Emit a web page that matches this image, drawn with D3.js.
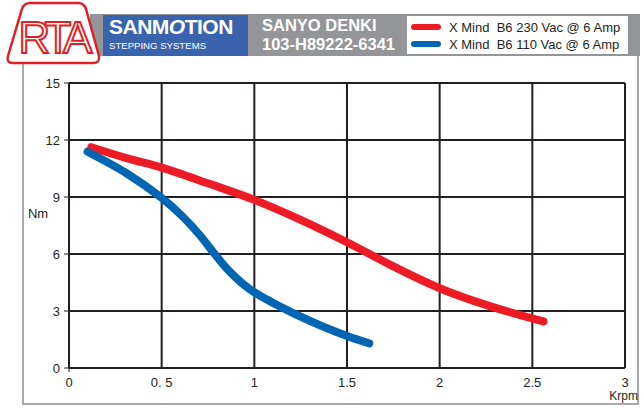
<!DOCTYPE html>
<html><head><meta charset="utf-8">
<script src="https://cdn.jsdelivr.net/npm/d3@7"></script>
<style>body{margin:0;background:#fff}svg{display:block}</style>
</head><body>
<svg id="c" width="644" height="408"></svg>
<script>
const xTicks = [0, 0.5, 1, 1.5, 2, 2.5, 3];
const xTickLabels = ["0", "0. 5", "1", "1.5", "2", "2.5", "3"];
const yTicks = [0, 3, 6, 9, 12, 15];
const seriesNames = ["X Mind  B6 230 Vac @ 6 Amp", "X Mind  B6 110 Vac @ 6 Amp"];
const seriesColors = ["#ed1c24", "#0066b3"];
const red230 = [[0.12,11.62],[0.31,11.05],[0.5,10.55],[0.75,9.72],[1.0,8.85],[1.25,7.8],[1.5,6.62],[1.75,5.35],[2.0,4.2],[2.25,3.32],[2.56,2.45]];
const blue110 = [[0.1,11.38],[0.31,10.25],[0.5,8.95],[0.614,7.96],[0.705,7.0],[0.786,6.0],[0.867,5.07],[0.975,4.15],[1.25,2.7],[1.5,1.68],[1.62,1.3]];

const svg = d3.select("#c");
const x = d3.scaleLinear().domain([0,3]).range([69,625]);
const y = d3.scaleLinear().domain([0,15]).range([368,83]);
const FONT = "Liberation Sans, Arial, sans-serif";

// frame
svg.append("path").attr("d","M23,62 V404 H638 V55").attr("fill","none").attr("stroke","#a7a9ac").attr("stroke-width",2);

// header band
svg.append("rect").attr("x",90).attr("y",14).attr("width",550).attr("height",42).attr("fill","#939598");
svg.append("rect").attr("x",103).attr("y",15).attr("width",145).attr("height",41).attr("fill","#3a63ad");
const t1 = svg.append("text").attr("x",109).attr("y",34).attr("fill","#fff").attr("font-family",FONT).attr("font-weight","bold").attr("font-size",21).attr("letter-spacing",-0.5);
t1.append("tspan").text("SANM");
t1.append("tspan").attr("font-style","italic").text("O");
t1.append("tspan").text("TION");
svg.append("text").attr("x",109).attr("y",49).attr("fill","#fff").attr("font-family",FONT).attr("font-size",9.6).text("STEPPING SYSTEMS");
svg.append("text").attr("x",262).attr("y",31).attr("fill","#fff").attr("font-family",FONT).attr("font-weight","bold").attr("font-size",16.5).text("SANYO DENKI");
svg.append("text").attr("x",262).attr("y",50).attr("fill","#fff").attr("font-family",FONT).attr("font-weight","bold").attr("font-size",16.5).text("103-H89222-6341");

// legend
svg.append("rect").attr("x",407).attr("y",16).attr("width",221).attr("height",38).attr("fill","#fff");
seriesNames.forEach((n,i)=>{
  const yy = 27 + i*17;
  svg.append("line").attr("x1",414).attr("x2",438).attr("y1",yy).attr("y2",yy).attr("stroke",seriesColors[i]).attr("stroke-width",6).attr("stroke-linecap","round");
  svg.append("text").attr("x",449).attr("y",yy+5).attr("fill","#231f20").attr("font-family",FONT).attr("font-size",13).attr("xml:space","preserve").style("white-space","pre").text(n);
});

// logo
const logo = svg.append("g");
logo.append("path").attr("d","M30,3 H78 Q84,3 86,9 L99,56 Q100,63 93,63 H13 Q6,63 8,56 L22,9 Q24,3 30,3 Z").attr("fill","#fff").attr("stroke","#e31e24").attr("stroke-width",2.5);
logo.append("text").attr("x",53).attr("y",53).attr("text-anchor","middle").attr("font-family",FONT).attr("font-size",44).attr("letter-spacing",-5).attr("fill","#fff").attr("stroke","#e31e24").attr("stroke-width",2).text("RTA");

// grid
const g = svg.append("g");
g.selectAll(".hg").data(yTicks).join("line").attr("x1",x(0)).attr("x2",x(3)).attr("y1",d=>y(d)).attr("y2",d=>y(d)).attr("stroke","#231f20").attr("stroke-width",2);
g.selectAll(".vg").data(xTicks).join("line").attr("x1",d=>x(d)).attr("x2",d=>x(d)).attr("y1",y(0)).attr("y2",y(15)).attr("stroke","#231f20").attr("stroke-width",2);
g.selectAll(".yt").data(yTicks).join("line").attr("x1",x(0)-5).attr("x2",x(0)).attr("y1",d=>y(d)).attr("y2",d=>y(d)).attr("stroke","#231f20").attr("stroke-width",1);
g.append("line").attr("x1",x(0)).attr("x2",x(0)).attr("y1",y(0)).attr("y2",y(0)+4).attr("stroke","#231f20").attr("stroke-width",1);
g.selectAll(".yl").data(yTicks).join("text").attr("x",x(0)-9).attr("y",d=>y(d)+5).attr("text-anchor","end").attr("font-family",FONT).attr("font-size",13).attr("fill","#231f20").text(d=>d);
g.selectAll(".xl").data(xTicks).join("text").attr("x",d=>x(d)).attr("y",y(0)+19).attr("text-anchor","middle").attr("font-family",FONT).attr("font-size",13).attr("fill","#231f20").attr("xml:space","preserve").style("white-space","pre").text((d,i)=>xTickLabels[i]);
svg.append("text").attr("x",38).attr("y",218).attr("text-anchor","middle").attr("font-family",FONT).attr("font-size",13).attr("fill","#231f20").text("Nm");
svg.append("text").attr("x",638).attr("y",400).attr("text-anchor","end").attr("font-family","Liberation Sans Narrow, Liberation Sans, Arial").attr("font-size",12).attr("fill","#231f20").text("Krpm");

// curves
const line = d3.line().x(d=>x(d[0])).y(d=>y(d[1])).curve(d3.curveCatmullRom.alpha(0.5));
[red230, blue110].forEach((s,i)=>{
  svg.append("path").attr("d",line(s)).attr("fill","none").attr("stroke",seriesColors[i]).attr("stroke-width",8).attr("stroke-linecap","round").attr("stroke-linejoin","round");
});
</script>
</body></html>
